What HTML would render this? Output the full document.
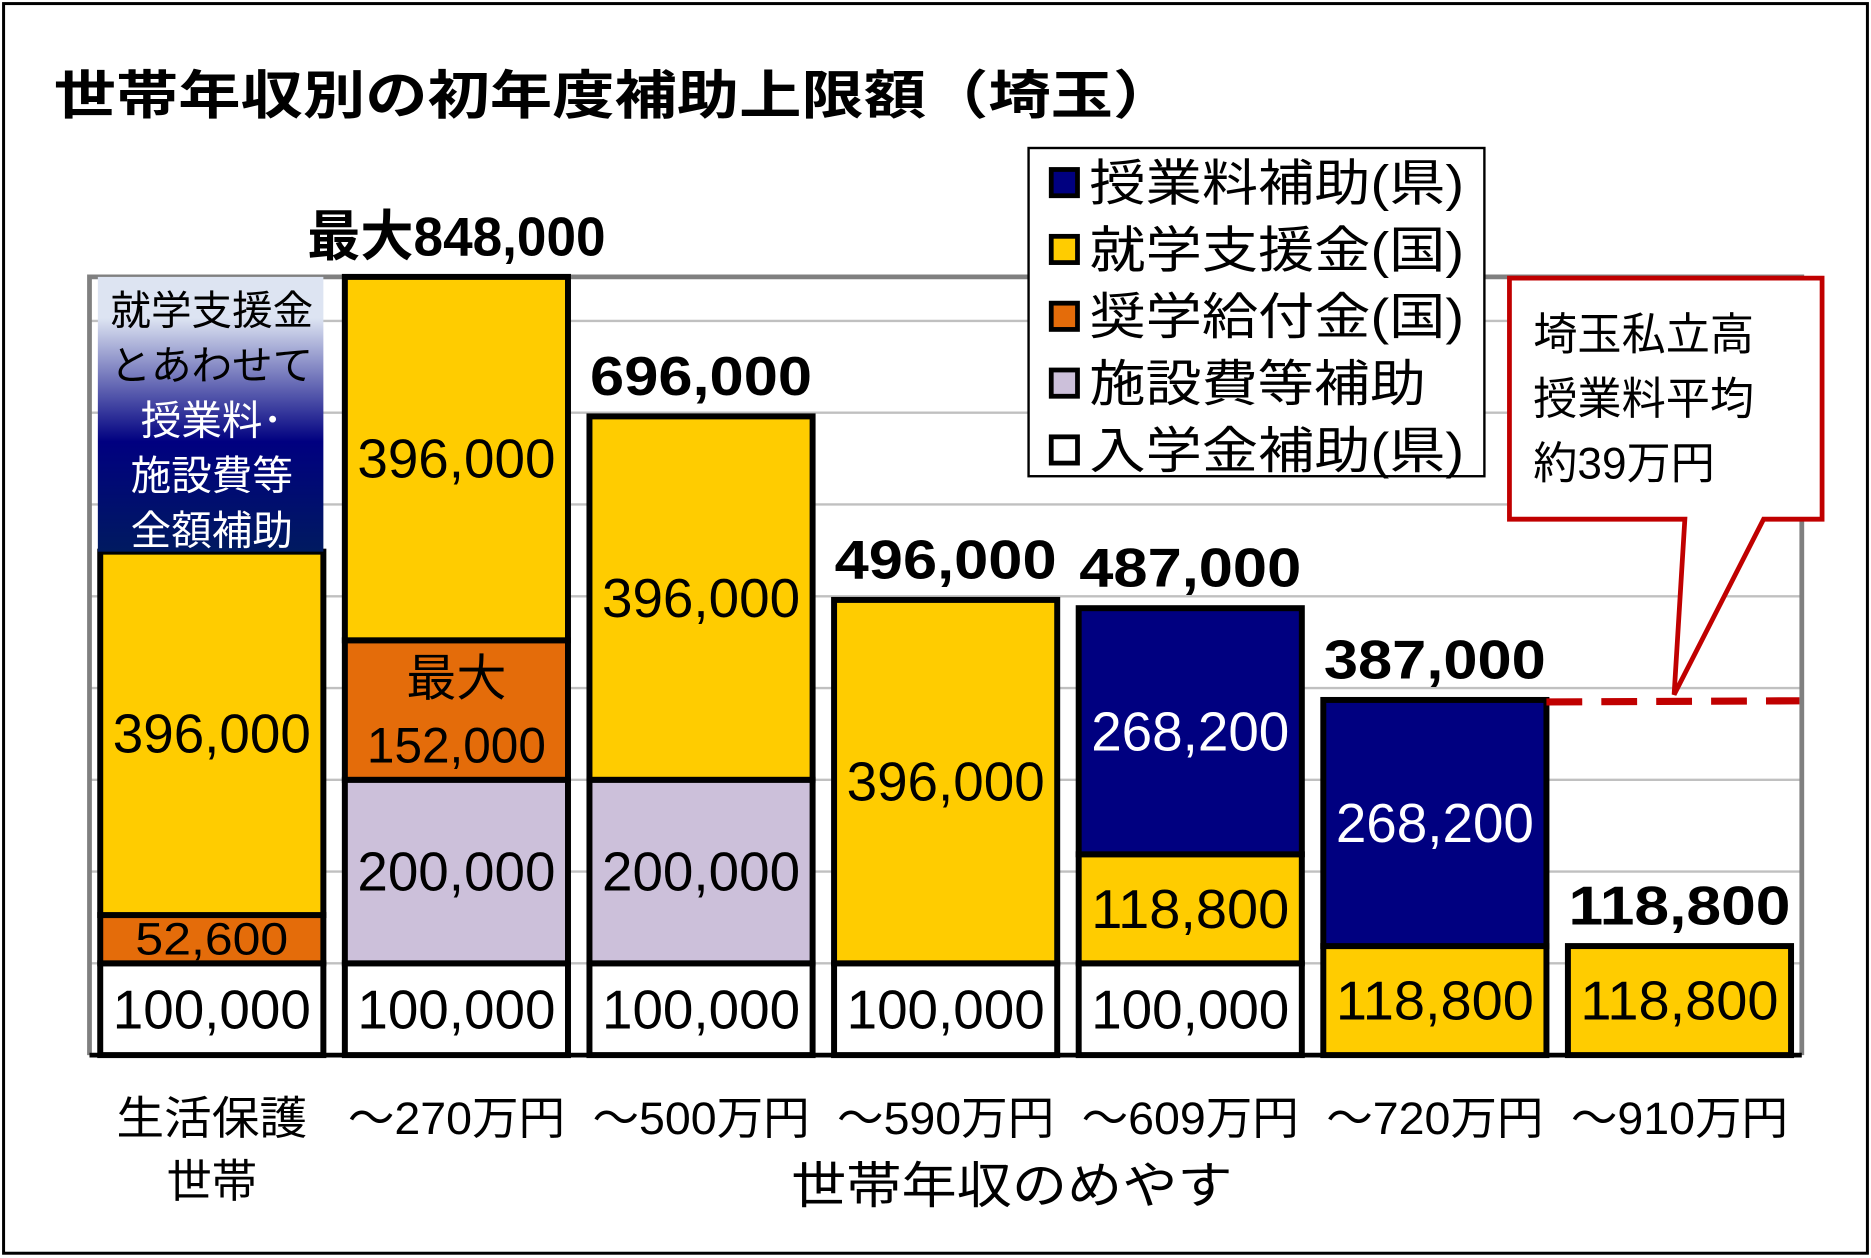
<!DOCTYPE html>
<html><head><meta charset="utf-8">
<style>
html,body{margin:0;padding:0;background:#fff;}
svg{display:block;}
text{font-family:"Liberation Sans","Noto Sans CJK JP",sans-serif;}
</style></head>
<body>
<svg id="chart" xmlns="http://www.w3.org/2000/svg" width="1871" height="1258" viewBox="0 0 1568 1054" preserveAspectRatio="none">
<defs>
<linearGradient id="gbox" x1="0" y1="0" x2="0" y2="1">
<stop offset="0" stop-color="#dde4f2"/><stop offset="0.15" stop-color="#dde4f2"/>
<stop offset="0.6" stop-color="#000080"/><stop offset="1" stop-color="#001a60"/>
</linearGradient>
</defs>
<rect x="3" y="3" width="1562" height="1047" fill="#fff" stroke="#000" stroke-width="2.5"/>
<text x="45" y="95" font-size="44" font-weight="bold" textLength="940" lengthAdjust="spacingAndGlyphs">世帯年収別の初年度補助上限額（埼玉）</text>
<g id="grid"></g>
<g id="bars"></g>
<g id="labels"></g>
</svg>
<script>
const categories = ["生活保護", "～270万円", "～500万円", "～590万円", "～609万円", "～720万円", "～910万円"];
const seriesNames = ["入学金補助(県)", "施設費等補助", "奨学給付金(国)", "就学支援金(国)", "授業料補助(県)"];
const nyugaku = [100000, 100000, 100000, 100000, 100000, 0, 0];
const shisetsu = [0, 200000, 200000, 0, 0, 0, 0];
const shogaku = [52600, 152000, 0, 0, 0, 0, 0];
const shugaku = [396000, 396000, 396000, 396000, 118800, 118800, 118800];
const jugyo = [0, 0, 0, 0, 268200, 268200, 0];
const totalLabels = ["", "最大848,000", "696,000", "496,000", "487,000", "387,000", "118,800"];
const gridTicks = [100000, 200000, 300000, 400000, 500000, 600000, 700000, 800000];
const avgTuition = 390000;

const NS = "http://www.w3.org/2000/svg";
const X0 = 75, X1 = 1510, Y0 = 884, YTOP = 232, YMAX = 848000;
const slot = (X1 - X0) / categories.length, barW = 187;
function y(v){ return Y0 - v / YMAX * (Y0 - YTOP); }
function xc(i){ return X0 + slot * (i + 0.5); }
function mk(tag, attrs, parent){ const e = document.createElementNS(NS, tag); for (const k in attrs) e.setAttribute(k, attrs[k]); parent.appendChild(e); return e; }
const grid = document.getElementById('grid'), bars = document.getElementById('bars'), labels = document.getElementById('labels');

gridTicks.forEach(t => {
  const l = mk('line', {x1: X0, x2: X1, y1: y(t), y2: y(t), stroke: '#c0c0c0', 'stroke-width': 2}, grid);
  
  
});
const pb = mk('path', {d: `M${X0} ${Y0} V${YTOP} H${X1} V${Y0}`, fill: 'none', stroke: '#808080', 'stroke-width': 4}, grid);



const series = [nyugaku, shisetsu, shogaku, shugaku, jugyo];
const colors = ['#ffffff', '#ccc0da', '#e46c0a', '#ffcc00', '#000080'];
const textColors = ['#000', '#000', '#000', '#000', '#fff'];
const segNames = ['entrance-fee-segment', 'facility-segment', 'scholarship-segment', 'tuition-support-segment', 'tuition-aid-segment'];
function fmt(v){ return v.toLocaleString('en-US'); }

categories.forEach((c, i) => {
  let base = 0;
  const x = xc(i) - barW / 2;
  series.forEach((s, k) => {
    const v = s[i];
    if (!v) return;
    const r = mk('rect', {x: x, y: y(base + v), width: barW, height: y(base) - y(base + v), fill: colors[k], stroke: '#000', 'stroke-width': 5}, bars);
    
    
    const mid = (y(base) + y(base + v)) / 2;
    if (k === 2 && i === 1) {
      const t1 = mk('text', {x: xc(i), y: mid - 12, 'font-size': 42, 'text-anchor': 'middle', fill: '#000'}, labels);
      t1.textContent = '最大';
      
      
      const t2 = mk('text', {x: xc(i), y: mid + 44, 'font-size': 42, 'text-anchor': 'middle', fill: '#000', textLength: 150, lengthAdjust: 'spacingAndGlyphs'}, labels);
      t2.textContent = fmt(v);
      
      
    } else {
      const small = (y(base) - y(base + v)) < 50;
      const t = mk('text', {x: xc(i), y: mid + (small ? 13 : 16), 'font-size': small ? 38 : 46, 'text-anchor': 'middle', fill: textColors[k], textLength: small ? 128 : 166, lengthAdjust: 'spacingAndGlyphs'}, labels);
      t.textContent = fmt(v);
      
      
    }
    base += v;
  });
  if (totalLabels[i]) {
    const big = totalLabels[i].length > 7;
    const tt = mk('text', {x: xc(i), y: y(base) - 18, 'font-size': 46, 'font-weight': 'bold', 'text-anchor': 'middle', fill: '#000', textLength: big ? 250 : 186, lengthAdjust: 'spacingAndGlyphs'}, labels);
    tt.textContent = totalLabels[i];
    
    
  } else {
    // gradient note box on top of first bar
    const g = mk('rect', {x: x - 2, y: YTOP, width: barW + 2, height: y(base) - YTOP, fill: 'url(#gbox)'}, bars);
    
    
    const lines = ['就学支援金', 'とあわせて', '授業料･', '施設費等', '全額補助'];
    const lc = ['#000', '#000', '#fff', '#fff', '#fff'];
    lines.forEach((ln, j) => {
      const t = mk('text', {x: xc(i), y: 272 + j * 46, 'font-size': 34, 'text-anchor': 'middle', fill: lc[j]}, labels);
      t.textContent = ln;
      
      
    });
  }
  // x labels
  const xl = mk('text', {x: xc(i), y: 950, 'font-size': 38, 'text-anchor': 'middle', fill: '#000', textLength: i === 0 ? 160 : 182, lengthAdjust: 'spacingAndGlyphs'}, labels);
  xl.textContent = c;
  
  
});
const sub = mk('text', {x: xc(0), y: 1003, 'font-size': 38, 'text-anchor': 'middle', fill: '#000'}, labels);
sub.textContent = '世帯';


const xt = mk('text', {x: 848, y: 1008, 'font-size': 42, 'text-anchor': 'middle', fill: '#000', textLength: 370, lengthAdjust: 'spacingAndGlyphs'}, labels);
xt.textContent = '世帯年収のめやす';



const ax = mk('line', {x1: X0, x2: X1, y1: Y0, y2: Y0, stroke: '#000', 'stroke-width': 4}, bars);



// average line
const avg = mk('line', {x1: xc(5) + barW / 2, x2: X1 - 2, y1: y(avgTuition) + 4, y2: y(avgTuition) + 3, stroke: '#c00000', 'stroke-width': 6, 'stroke-dasharray': '30 16'}, labels);



// callout
const co = mk('path', {d: 'M1265 233 H1527 V435 H1478 L1403 582 L1412 435 H1265 Z', fill: '#fff', stroke: '#c00000', 'stroke-width': 4, 'stroke-linejoin': 'miter'}, labels);


['埼玉私立高', '授業料平均', '約39万円'].forEach((ln, j) => {
  const t = mk('text', {x: 1285, y: 293 + j * 54, 'font-size': 37, fill: '#000'}, labels);
  t.textContent = ln;
  
  
});

// legend
const lg = mk('rect', {x: 862, y: 124, width: 382, height: 275, fill: '#fff', stroke: '#000', 'stroke-width': 2}, labels);


const legendOrder = [4, 3, 2, 1, 0];
legendOrder.forEach((k, j) => {
  const cy = 152 + j * 56;
  const sw = mk('rect', {x: 881, y: cy - 10, width: 22, height: 22, fill: colors[k], stroke: '#000', 'stroke-width': 4}, labels);
  
  
  const t = mk('text', {x: 913, y: cy + 16, 'font-size': 42, fill: '#000', textLength: seriesNames[k].length === 6 ? 282 : 314, lengthAdjust: 'spacingAndGlyphs'}, labels);
  t.textContent = seriesNames[k];
  
  
});
</script>
</body></html>
